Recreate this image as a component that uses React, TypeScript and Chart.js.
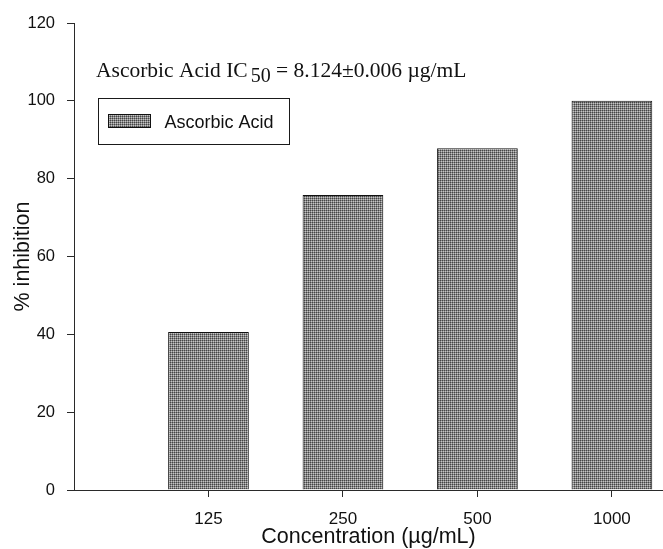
import { useEffect, useRef } from "react";
import { Chart, registerables } from "chart.js";

Chart.register(...registerables);

const categories = ["125", "250", "500", "1000"];
const inhibition = [40.6, 75.8, 87.8, 100.0];
const seriesLabel = "Ascorbic Acid";
const yTickValues = [0, 20, 40, 60, 80, 100, 120];
const titleMain = "Ascorbic Acid IC";
const titleSub = "50";
const titleRest = " = 8.124±0.006 µg/mL";
const xTitle = "Concentration (µg/mL)";
const yTitle = "% inhibition";

const SANS = "'Liberation Sans', Arial, sans-serif";
const SERIF = "'Liberation Serif', 'Times New Roman', serif";
const INK = "#111111";
const AXIS = "#2a2a2a";

function makePattern(): CanvasPattern | string {
  const c = document.createElement("canvas");
  c.width = 2;
  c.height = 2;
  const g = c.getContext("2d");
  if (!g) return "#858585";
  g.fillStyle = "#868686";
  g.fillRect(0, 0, 2, 2);
  g.fillStyle = "#454545";
  g.fillRect(0, 0, 1, 1);
  g.fillStyle = "#c4c4c4";
  g.fillRect(1, 1, 1, 1);
  return g.createPattern(c, "repeat") ?? "#858585";
}

export default function App() {
  const canvasRef = useRef<HTMLCanvasElement | null>(null);

  useEffect(() => {
    document.body.style.margin = "0";
    const canvas = canvasRef.current;
    if (!canvas) return;
    const pattern = makePattern();

    const annotations = {
      id: "annotations",
      afterDraw(chart: any) {
        const { ctx, chartArea } = chart;
        ctx.save();
        // Title with subscript
        const tx = chartArea.left + 22;
        const ty = chartArea.top + 54;
        ctx.fillStyle = INK;
        ctx.textBaseline = "alphabetic";
        ctx.textAlign = "left";
        ctx.font = `21.5px ${SERIF}`;
        ctx.fillText(titleMain, tx, ty);
        let x = tx + ctx.measureText(titleMain).width + 3;
        ctx.font = `20px ${SERIF}`;
        ctx.fillText(titleSub, x, ty + 5);
        x += ctx.measureText(titleSub).width;
        ctx.font = `21.5px ${SERIF}`;
        ctx.fillText(titleRest, x, ty);

        // Legend box
        const lx = Math.round(chartArea.left + 24) + 0.5;
        const ly = Math.round(chartArea.top + 75) + 0.5;
        const lw = 191;
        const lh = 46;
        ctx.strokeStyle = "#1a1a1a";
        ctx.lineWidth = 1;
        ctx.strokeRect(lx, ly, lw, lh);
        // swatch
        const sx = lx + 10;
        const sy = ly + 16;
        ctx.fillStyle = pattern;
        ctx.fillRect(sx, sy, 42, 13);
        ctx.strokeStyle = "#111111";
        ctx.strokeRect(sx, sy, 42, 13);
        ctx.fillStyle = INK;
        ctx.font = `18px ${SANS}`;
        ctx.fillText(chart.data.datasets[0].label, lx + 66, ly + 29);
        ctx.restore();
      },
    };

    const chart = new Chart(canvas, {
      type: "bar",
      data: {
        datasets: [
          {
            label: seriesLabel,
            data: inhibition.map((v, i) => ({ x: i + 1, y: v })),
            backgroundColor: pattern as any,
            borderColor: "#111111",
            borderWidth: { top: 1, left: 1, right: 1, bottom: 0 },
            barPercentage: 0.6,
            categoryPercentage: 1,
          },
        ],
      },
      options: {
        animation: false,
        responsive: false,
        devicePixelRatio: 1,
        layout: { padding: { top: 23, right: 0, left: 0, bottom: 0 } },
        plugins: {
          legend: { display: false },
          tooltip: { enabled: false },
        },
        scales: {
          x: {
            type: "linear",
            offset: false,
            min: 0,
            max: 4.38,
            afterBuildTicks: (scale: any) => {
              scale.ticks = categories.map((_, i) => ({ value: i + 1 }));
            },
            afterFit: (scale: any) => {
              scale.height = 59;
            },
            grid: {
              offset: false,
              drawOnChartArea: false,
              drawTicks: true,
              tickLength: 7,
              color: AXIS,
            },
            border: { display: true, color: AXIS, width: 1 },
            ticks: {
              padding: 12,
              color: INK,
              font: { family: SANS, size: 17 },
              maxRotation: 0,
              autoSkip: false,
              callback: (value: any) => categories[Number(value) - 1] ?? "",
            },
            title: {
              display: true,
              text: xTitle,
              color: INK,
              font: { family: SANS, size: 21.5, lineHeight: 1.1 },
              padding: { top: 0, bottom: 0 },
            },
          },
          y: {
            type: "linear",
            min: 0,
            max: 120,
            afterBuildTicks: (scale: any) => {
              scale.ticks = yTickValues.map((v) => ({ value: v }));
            },
            afterFit: (scale: any) => {
              scale.width = 74;
            },
            grid: {
              drawOnChartArea: false,
              drawTicks: true,
              tickLength: 7,
              color: AXIS,
            },
            border: { display: true, color: AXIS, width: 1 },
            ticks: {
              padding: 12,
              color: INK,
              font: { family: SANS, size: 16.5 },
            },
            title: {
              display: true,
              text: yTitle,
              color: INK,
              font: { family: SANS, size: 21.5, lineHeight: 1.1 },
              padding: { top: 11, bottom: 0 },
            },
          },
        },
      },
      plugins: [annotations],
    });

    return () => chart.destroy();
  }, []);

  return (
    <div style={{ width: 663, height: 549, background: "#ffffff" }}>
      <canvas ref={canvasRef} width={663} height={549} style={{ display: "block" }} />
    </div>
  );
}
